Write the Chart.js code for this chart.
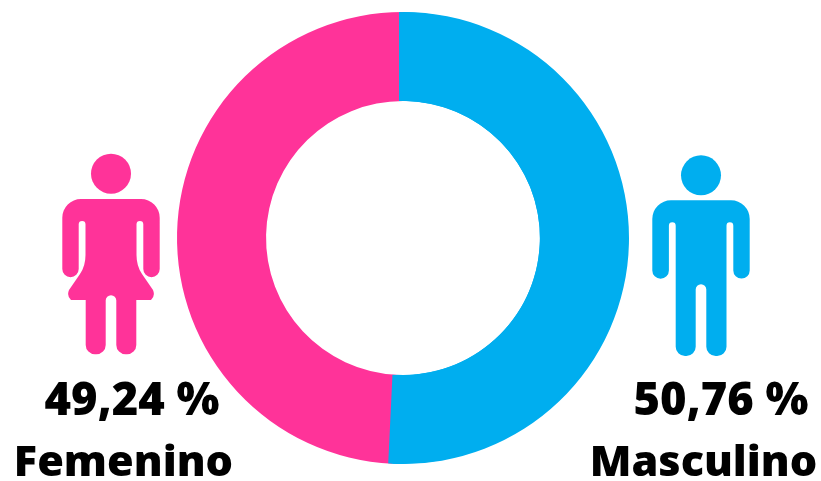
<!DOCTYPE html>
<html>
<head>
<meta charset="utf-8">
<script src="https://cdn.jsdelivr.net/npm/chart.js@4"></script>
<style>
  html, body { margin: 0; padding: 0; background: #fff; }
  #wrap { position: relative; width: 821px; height: 481px; overflow: hidden; }
  #genderChart { position: absolute; left: 0; top: 0; }
  #icons { position: absolute; left: 0; top: 0; }
  .lbl {
    position: absolute; white-space: nowrap; color: #000; line-height: 1;
    font-family: "Open Sans", sans-serif; font-weight: 800;
    transform: translateX(-50%);
  }
  .pct { font-size: 45.3px; top: 375px; }
  .name { font-size: 43.2px; top: 438px; }
</style>
</head>
<body>
<div id="wrap">
  <canvas id="genderChart" width="821" height="481"></canvas>
  <svg id="icons" width="821" height="481" viewBox="0 0 821 481">
    <g fill="#FF3399">
      <circle cx="111" cy="173.7" r="20"/>
      <path d="M81 199H141A18.7 18.7 0 0 1 159.7 217.7V269A8.2 8.2 0 0 1 143.3 269V224.3A3.4 3.4 0 0 0 136.5 224.3V255Q136.5 266 142 274L153 290Q155.5 296 151 300H136.3V345A9.3 9.3 0 0 1 127 354.3H125.6A9.3 9.3 0 0 1 116.3 345V300.5A5.3 5.3 0 0 0 105.7 300.5V345A9.3 9.3 0 0 1 96.4 354.3H95A9.3 9.3 0 0 1 85.7 345V300H71Q66.5 296 69 290L80 274Q85.5 266 85.5 255V224.3A3.4 3.4 0 0 0 78.7 224.3V269A8.2 8.2 0 0 1 62.3 269V217.7A18.7 18.7 0 0 1 81 199Z"/>
    </g>
    <g fill="#00AEEF">
      <circle cx="701" cy="175.3" r="20"/>
      <path d="M671 200.3H731A18.7 18.7 0 0 1 749.7 219V270.4A8.2 8.2 0 0 1 733.3 270.4V225.7A3.4 3.4 0 0 0 726.5 225.7V346.7A9.3 9.3 0 0 1 717.2 356H715.6A9.3 9.3 0 0 1 706.3 346.7V289.6A5.3 5.3 0 0 0 695.7 289.6V346.7A9.3 9.3 0 0 1 686.4 356H685A9.3 9.3 0 0 1 675.7 346.7V225.7A3.4 3.4 0 0 0 668.9 225.7V270.4A8.2 8.2 0 0 1 652.3 270.4V219A18.7 18.7 0 0 1 671 200.3Z"/>
    </g>
  </svg>
  <div class="lbl pct" style="left:132px" id="pctF"></div>
  <div class="lbl name" style="left:123.5px" id="nameF"></div>
  <div class="lbl pct" style="left:721px" id="pctM"></div>
  <div class="lbl name" style="left:703.5px" id="nameM"></div>
</div>
<script>
const categories = ['Masculino', 'Femenino'];
const shares = [50.76, 49.24];
const shareLabels = ['50,76 %', '49,24 %'];
const colors = ['#00AEEF', '#FF3399'];

document.getElementById('nameM').textContent = categories[0];
document.getElementById('nameF').textContent = categories[1];
document.getElementById('pctM').textContent = shareLabels[0];
document.getElementById('pctF').textContent = shareLabels[1];

// the seam in the picture runs 4px left of the ring's centre, so repaint the blue arc shifted, clipped to the ring
const seamShift = {
  id: 'seamShift',
  afterDatasetsDraw(chart) {
    const arc = chart.getDatasetMeta(0).data[0];
    const ctx = chart.ctx;
    ctx.save();
    ctx.beginPath();
    ctx.arc(arc.x, arc.y, arc.outerRadius, 0, Math.PI * 2);
    ctx.arc(arc.x, arc.y, arc.innerRadius, 0, Math.PI * 2, true);
    ctx.clip();
    ctx.translate(-4, 0);
    arc.draw(ctx);
    ctx.restore();
  },
};

new Chart(document.getElementById('genderChart'), {
  type: 'doughnut',
  data: {
    labels: categories,
    datasets: [{ data: shares, backgroundColor: colors, borderWidth: 0 }],
  },
  options: {
    responsive: false,
    animation: false,
    cutout: '60.6%',
    layout: { padding: { left: 177, right: 192, top: 12, bottom: 17 } },
    plugins: { legend: { display: false }, tooltip: { enabled: false } },
  },
  plugins: [seamShift],
});
</script>
</body>
</html>
